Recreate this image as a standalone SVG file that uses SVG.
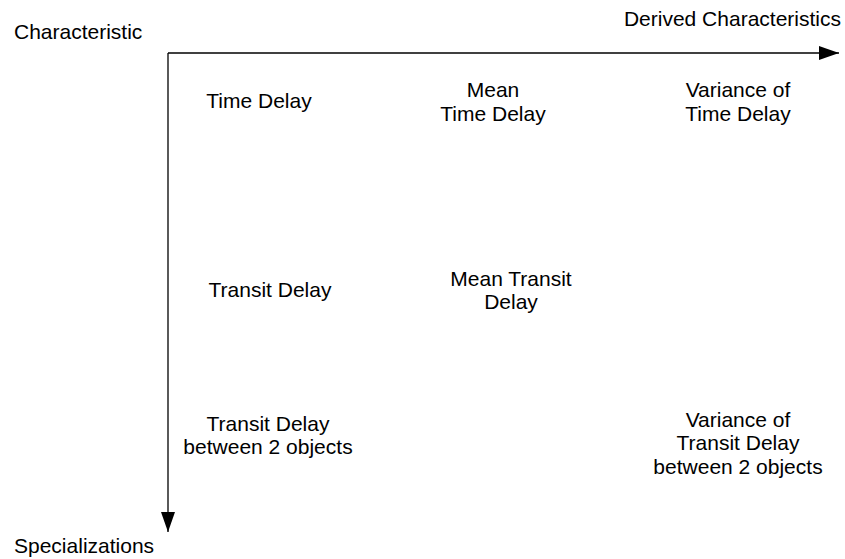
<svg xmlns="http://www.w3.org/2000/svg" width="845" height="559" viewBox="0 0 845 559">
  <style>
    text { font-family: "Liberation Sans", Arial, sans-serif; font-size: 21px; fill: #000; }
    .c { text-anchor: middle; }
    .axis { stroke: #000; stroke-width: 1.3; fill: none; }
  </style>
  <defs>
    <marker id="head" viewBox="0 0 20 14" refX="20" refY="7" markerWidth="20" markerHeight="14" markerUnits="userSpaceOnUse" orient="auto">
      <path d="M0,0 L20,7 L0,14 Z" fill="#000"/>
    </marker>
  </defs>
  <rect width="845" height="559" fill="#fff"/>

  <!-- axes -->
  <g id="connectors">
    <path class="axis" d="M168,53 L839,53" marker-end="url(#head)"/>
    <path class="axis" d="M168,53 L168,532" marker-end="url(#head)"/>
  </g>

  <!-- axis labels -->
  <g id="axis-characteristic"><text x="14" y="39">Characteristic</text></g>
  <g id="axis-derived"><text x="841" y="26" text-anchor="end">Derived Characteristics</text></g>
  <g id="axis-specializations"><text x="14" y="553">Specializations</text></g>

  <!-- row 1 -->
  <g id="time-delay"><text class="c" x="259" y="108">Time Delay</text></g>
  <g id="mean-time-delay">
    <text class="c" x="493" y="97">Mean</text>
    <text class="c" x="493" y="121">Time Delay</text>
  </g>
  <g id="variance-time-delay">
    <text class="c" x="738" y="97">Variance of</text>
    <text class="c" x="738" y="121">Time Delay</text>
  </g>

  <!-- row 2 -->
  <g id="transit-delay"><text class="c" x="270" y="297">Transit Delay</text></g>
  <g id="mean-transit-delay">
    <text class="c" x="511" y="286">Mean Transit</text>
    <text class="c" x="511" y="309">Delay</text>
  </g>

  <!-- row 3 -->
  <g id="transit-delay-2obj">
    <text class="c" x="268" y="431">Transit Delay</text>
    <text class="c" x="268" y="454">between 2 objects</text>
  </g>
  <g id="variance-transit-delay-2obj">
    <text class="c" x="738" y="427">Variance of</text>
    <text class="c" x="738" y="450">Transit Delay</text>
    <text class="c" x="738" y="474">between 2 objects</text>
  </g>
</svg>
